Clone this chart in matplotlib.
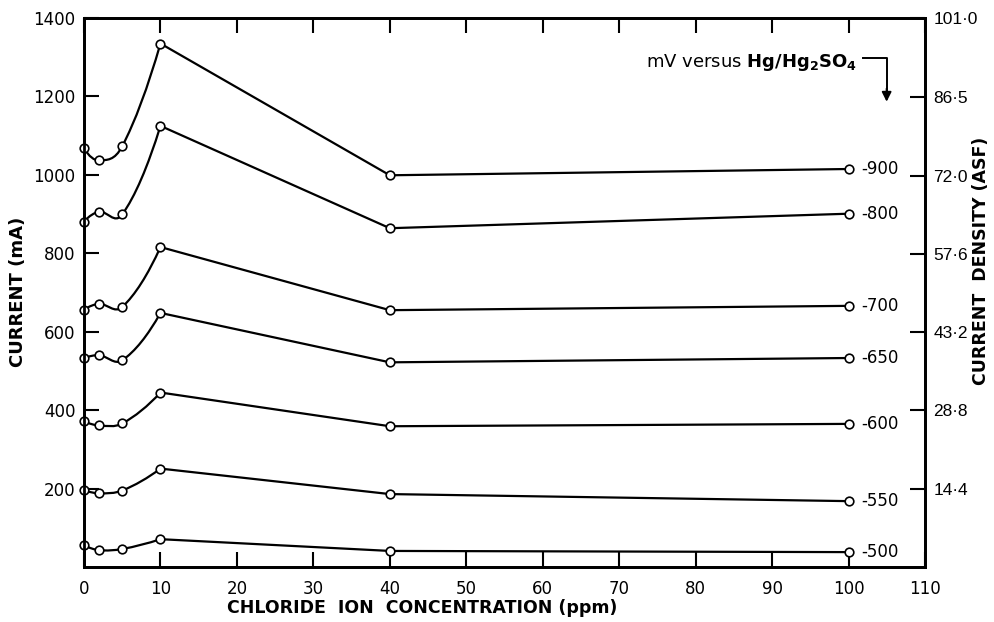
import matplotlib
matplotlib.use("Agg")
import matplotlib.pyplot as plt
from matplotlib.path import Path
from matplotlib.patches import PathPatch

# chloride concentration (ppm)
conc = [0, 2, 5, 10, 40, 100]

# current (mA) for each potential, mV vs Hg/Hg2SO4
potentials = ["-900", "-800", "-700", "-650", "-600", "-550", "-500"]
i_900 = [1068, 1037, 1073, 1335, 999, 1015]
i_800 = [881, 906, 899, 1125, 864, 901]
i_700 = [656, 671, 663, 816, 655, 666]
i_650 = [532, 540, 527, 648, 522, 533]
i_600 = [372, 361, 366, 445, 359, 365]
i_550 = [196, 188, 195, 251, 186, 168]
i_500 = [56, 43, 46, 71, 41, 38]
series = [i_900, i_800, i_700, i_650, i_600, i_550, i_500]

mA_ticks = [200, 400, 600, 800, 1000, 1200, 1400]
asf_ticks = [14.4, 28.8, 43.2, 57.6, 72.0, 86.5, 101.0]
x_ticks = list(range(0, 111, 10))

plt.rcParams['font.family'] = ['DejaVu Sans']

fig = plt.figure(figsize=(9.94, 6.22), dpi=100)
ax = fig.add_axes([0.0845, 0.0884, 0.8461, 0.8826])


def smooth_path(xs, ys):
    # hermite curve through the low-concentration points, drawn as beziers
    n = len(xs)
    sec = [(ys[k + 1] - ys[k]) / (xs[k + 1] - xs[k]) for k in range(n - 1)]
    m = [0.0] * n
    for k in range(1, n - 1):
        m[k] = (ys[k + 1] - ys[k - 1]) / (xs[k + 1] - xs[k - 1])
    m[0] = 2 * sec[0] - m[1]
    m[-1] = 2 * sec[-1] - m[-2]
    verts = [(xs[0], ys[0])]
    codes = [Path.MOVETO]
    for k in range(n - 1):
        h = xs[k + 1] - xs[k]
        verts += [(xs[k] + h / 3, ys[k] + m[k] * h / 3),
                  (xs[k + 1] - h / 3, ys[k + 1] - m[k + 1] * h / 3),
                  (xs[k + 1], ys[k + 1])]
        codes += [Path.CURVE4] * 3
    return Path(verts, codes)


for lab, ys in zip(potentials, series):
    p = smooth_path(conc[:4], ys[:4])
    ax.add_patch(PathPatch(p, facecolor='none', edgecolor='black', lw=1.6, zorder=2))
    ax.plot(conc[3:], ys[3:], color='black', lw=1.6, zorder=2)
    ax.plot(conc, ys, 'o', ms=6.2, mfc='white', mec='black', mew=1.2, zorder=3,
            clip_on=False)
    ax.annotate(lab, (conc[-1], ys[-1]), xytext=(9, 0), textcoords='offset points',
                ha='left', va='center', fontsize=12)

ax.set_xlim(0, 110)
ax.set_ylim(0, 1400)
ax.set_xticks(x_ticks)
ax.set_xticklabels([str(v) for v in x_ticks])
ax.set_yticks(mA_ticks)
ax.set_yticklabels([str(v) for v in mA_ticks])
ax.tick_params(axis='both', direction='in', length=11, width=1.5, labelsize=12,
               top=True, pad=6)
ax.tick_params(axis='x', pad=9)
for s in ax.spines.values():
    s.set_linewidth(2)

ax2 = ax.twinx()
ax2.set_ylim(0, 101.0)
ax2.set_yticks(asf_ticks)
ax2.set_yticklabels([("%.1f" % v).replace('.', '\u00b7') for v in asf_ticks],
                    family=['Liberation Sans Narrow', 'Liberation Sans', 'DejaVu Sans'])
ax2.tick_params(axis='y', direction='in', length=11, width=1.5, labelsize=12.5, pad=6)
for s in ax2.spines.values():
    s.set_linewidth(2)

fig.text(0.018, 0.53, "CURRENT (mA)", rotation=90, ha='center', va='center',
         fontsize=13, fontweight='bold')
fig.text(0.987, 0.58, "CURRENT  DENSITY (ASF)", rotation=90, ha='center', va='center',
         fontsize=12.5, fontweight='bold')
fig.text(0.425, 0.022, "CHLORIDE  ION  CONCENTRATION (ppm)", ha='center', va='center',
         fontsize=12.5, fontweight='bold')

# reference electrode note with bent arrow
ax.text(0.862, 0.9, r"mV versus $\mathbf{Hg/Hg_2SO_4}$", transform=fig.transFigure,
        ha='right', va='center', fontsize=13)
ax.plot([0.868, 0.892, 0.892], [0.907, 0.907, 0.85], transform=fig.transFigure,
        color='black', lw=1.4, clip_on=False)
ax.annotate("", xy=(0.892, 0.832), xytext=(0.892, 0.862), xycoords='figure fraction',
            arrowprops=dict(arrowstyle='-|>', color='black', lw=1.4, mutation_scale=14))

fig.savefig("out.png", dpi=100)
